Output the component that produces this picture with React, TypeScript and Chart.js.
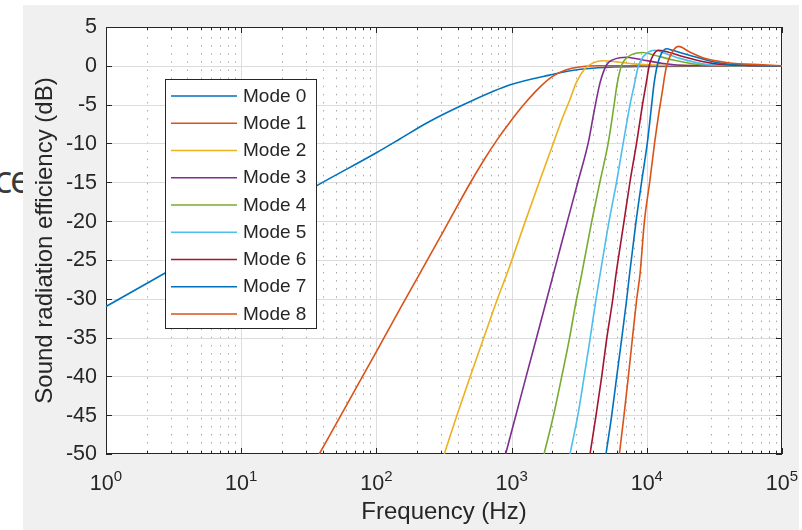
import { useEffect, useRef } from 'react';
import { Chart, registerables } from 'chart.js';

Chart.register(...registerables);

// ---- data -------------------------------------------------------------
const modeLabels = ['Mode 0', 'Mode 1', 'Mode 2', 'Mode 3', 'Mode 4', 'Mode 5', 'Mode 6', 'Mode 7', 'Mode 8'];
const modeColors = ['#0072BD', '#D95319', '#EDB120', '#7E2F8E', '#77AC30', '#4DBEEE', '#A2142F', '#0072BD', '#D95319'];

// frequency (Hz) / radiation efficiency (dB) for each mode
const freq0 = [1, 10, 35.7, 100, 150, 234, 468, 977, 1905, 3236, 10000, 100000];
const db0 = [-31, -21.1, -15.5, -11.2, -9.4, -7.4, -4.8, -2.45, -1.2, -0.45, -0.08, 0];

const freq1 = [37.8, 63.1, 100, 158.5, 251.2, 354.8, 497.7, 631, 776.2, 977.2, 1259, 1585, 1995, 2512, 3162, 4467, 100000];
const db1 = [-50, -43.05, -36.8, -30.5, -24.3, -19.6, -15.0, -12.0, -9.6, -7.2, -4.8, -2.9, -1.4, -0.55, -0.15, 0, 0];

const freq2 = [317.7, 392.6, 492, 618, 783, 946, 1259, 1607, 2042, 2344, 2692, 3020, 3467, 3981, 4786, 6026, 7943, 11220, 100000];
const db2 = [-50, -45.1, -40.1, -35.2, -30.1, -26.3, -20.1, -14.9, -9.9, -7.0, -4.4, -2.1, -0.4, 0.35, 0.65, 0.5, 0.25, 0.1, 0];

const freq3 = [903.6, 1076, 1282, 1531, 1824, 2173, 2588, 3090, 3690, 4074, 4508, 5047, 5649, 6310, 7079, 8414, 10471, 13183, 19953, 100000];
const db3 = [-50, -45, -40, -35, -30, -25, -20, -15, -9.9, -5.9, -2.2, 0.14, 0.8, 1.05, 1.1, 0.9, 0.6, 0.3, 0.05, 0];

const freq4 = [1738, 2037, 2344, 2673, 3020, 3236, 3908, 4508, 5188, 5689, 6026, 6516, 7311, 8414, 9333, 11220, 15704, 23442, 39811, 100000];
const db4 = [-50, -45.1, -40.1, -35.2, -30.1, -27.6, -20.1, -14.9, -9.9, -5.4, -2.4, 0.1, 1.2, 1.65, 1.72, 1.4, 0.75, 0.2, 0.05, 0];

const freq5 = [2704, 3083, 3436, 3802, 4207, 4519, 5248, 5984, 6699, 7516, 8091, 8650, 9419, 10568, 11482, 13183, 17579, 27542, 50119, 100000];
const db5 = [-50, -45.1, -40.1, -35.2, -30.1, -26.8, -20.1, -14.9, -9.9, -5.0, -2.4, -0.1, 1.2, 1.87, 2.0, 1.7, 0.96, 0.2, 0.03, 0];

const freq6 = [3802, 4207, 4634, 5047, 5598, 5916, 6776, 7516, 8414, 9290, 9863, 10447, 11169, 12190, 13183, 17579, 30903, 56234, 100000];
const db6 = [-50, -45.1, -40.1, -35.2, -30.1, -26.9, -20.1, -14.9, -9.9, -5.0, -2.4, 0.1, 1.4, 2.0, 1.95, 1.3, 0.3, 0.03, 0];

const freq7 = [4989, 5495, 5984, 6516, 7096, 7447, 8318, 9162, 10093, 10864, 11298, 11967, 12882, 14028, 15488, 19498, 34674, 63096, 100000];
const db7 = [-50, -45.1, -40.1, -35.2, -30.1, -26.9, -20.1, -14.9, -9.9, -5.0, -2.4, 0.1, 1.65, 2.2, 2.0, 1.5, 0.35, 0.05, 0];

const freq8 = [6266, 6776, 7295, 7816, 8414, 8913, 9594, 10520, 11429, 12303, 13032, 13646, 14125, 15276, 17100, 20893, 26303, 39811, 72444, 100000];
const db8 = [-50, -45.1, -40.1, -35.2, -30.1, -26.8, -20.1, -14.9, -9.9, -6.0, -3.3, -1.0, 0.2, 1.65, 2.5, 1.75, 1.0, 0.4, 0.12, 0];

const modeFreqs = [freq0, freq1, freq2, freq3, freq4, freq5, freq6, freq7, freq8];
const modeDb = [db0, db1, db2, db3, db4, db5, db6, db7, db8];

// axes
const xDecades = [1, 10, 100, 1000, 10000, 100000];
const xExponents = ['0', '1', '2', '3', '4', '5'];
const xMinorFactors = [2, 3, 4, 5, 6, 7, 8, 9];
const yTicks = [-50, -45, -40, -35, -30, -25, -20, -15, -10, -5, 0, 5];
const xTitle = 'Frequency (Hz)';
const yTitle = 'Sound radiation efficiency (dB)';

// ---- drawing helpers ----------------------------------------------------
const FONT = '"Liberation Sans", Arial, Helvetica, sans-serif';
const INK = '#262626';

const axesPlugin = {
  id: 'axesFrame',
  beforeDatasetsDraw(chart: any) {
    const { ctx, chartArea, scales } = chart;
    const { left, top, right, bottom } = chartArea;
    const xs = scales.x;
    const ys = scales.y;
    ctx.save();
    ctx.fillStyle = '#ffffff';
    ctx.fillRect(left, top, right - left, bottom - top);

    // minor dotted grid (vertical)
    ctx.lineWidth = 1;
    ctx.strokeStyle = '#a6a6a6';
    ctx.setLineDash([1.5, 6.6]);
    ctx.beginPath();
    for (let i = 0; i < xDecades.length - 1; i++) {
      for (const m of xMinorFactors) {
        const px = Math.round(xs.getPixelForValue(xDecades[i] * m)) + 0.5;
        ctx.moveTo(px, top + 2);
        ctx.lineTo(px, bottom);
      }
    }
    ctx.stroke();
    ctx.setLineDash([]);

    // major grid
    ctx.strokeStyle = '#dcdcdc';
    ctx.beginPath();
    for (const d of xDecades.slice(1, -1)) {
      const px = Math.round(xs.getPixelForValue(d)) + 0.5;
      ctx.moveTo(px, top);
      ctx.lineTo(px, bottom);
    }
    for (const v of yTicks.slice(1, -1)) {
      const py = Math.round(ys.getPixelForValue(v)) + 0.5;
      ctx.moveTo(left, py);
      ctx.lineTo(right, py);
    }
    ctx.stroke();

    // inward tick marks
    ctx.strokeStyle = INK;
    ctx.beginPath();
    for (let i = 0; i < xDecades.length; i++) {
      const px = Math.round(xs.getPixelForValue(xDecades[i])) + 0.5;
      ctx.moveTo(px, bottom);
      ctx.lineTo(px, bottom - 6);
      ctx.moveTo(px, top);
      ctx.lineTo(px, top + 6);
      if (i < xDecades.length - 1) {
        for (const m of xMinorFactors) {
          const pm = Math.round(xs.getPixelForValue(xDecades[i] * m)) + 0.5;
          ctx.moveTo(pm, bottom);
          ctx.lineTo(pm, bottom - 3);
          ctx.moveTo(pm, top);
          ctx.lineTo(pm, top + 3);
        }
      }
    }
    for (const v of yTicks) {
      const py = Math.round(ys.getPixelForValue(v)) + 0.5;
      ctx.moveTo(left, py);
      ctx.lineTo(left + 6, py);
      ctx.moveTo(right, py);
      ctx.lineTo(right - 6, py);
    }
    ctx.stroke();
    ctx.strokeRect(left + 0.5, top + 0.5, right - left - 1, bottom - top - 1);
    ctx.restore();
  },
  afterDraw(chart: any) {
    const { ctx, chartArea, scales } = chart;
    const { left, top, right, bottom } = chartArea;
    const xs = scales.x;
    const ys = scales.y;
    ctx.save();

    // legend box
    const lx = 165;
    const ly = 79;
    const lw = 151;
    const lh = 249;
    ctx.fillStyle = '#ffffff';
    ctx.fillRect(lx, ly, lw, lh);
    ctx.strokeStyle = INK;
    ctx.lineWidth = 1;
    ctx.strokeRect(lx + 0.5, ly + 0.5, lw, lh);
    ctx.font = `19px ${FONT}`;
    ctx.textAlign = 'left';
    ctx.textBaseline = 'middle';
    chart.data.datasets.forEach((ds: any, i: number) => {
      const ry = ly + 17 + i * 27.25;
      ctx.strokeStyle = ds.borderColor;
      ctx.lineWidth = 1.6;
      ctx.beginPath();
      ctx.moveTo(lx + 6, ry);
      ctx.lineTo(lx + 72, ry);
      ctx.stroke();
      ctx.fillStyle = INK;
      ctx.fillText(ds.label, lx + 78, ry + 0.5);
    });

    // y tick labels
    ctx.fillStyle = INK;
    ctx.font = `21.5px ${FONT}`;
    ctx.textAlign = 'right';
    ctx.textBaseline = 'middle';
    for (const v of yTicks) {
      ctx.fillText(String(v), left - 9, ys.getPixelForValue(v) + 0.5);
    }

    // x tick labels: 10 with raised exponent
    ctx.textAlign = 'left';
    ctx.textBaseline = 'alphabetic';
    xDecades.forEach((d, i) => {
      const px = xs.getPixelForValue(d);
      ctx.font = `21.5px ${FONT}`;
      const wb = ctx.measureText('10').width;
      ctx.font = `15px ${FONT}`;
      const we = ctx.measureText(xExponents[i]).width;
      const x0 = px - (wb + we) / 2;
      ctx.font = `21.5px ${FONT}`;
      ctx.fillText('10', x0, 490);
      ctx.font = `15px ${FONT}`;
      ctx.fillText(xExponents[i], x0 + wb, 480.5);
    });

    // axis titles
    ctx.font = `24px ${FONT}`;
    ctx.textAlign = 'center';
    ctx.textBaseline = 'alphabetic';
    ctx.fillText(xTitle, (left + right) / 2, 519);
    ctx.translate(52, (top + bottom) / 2);
    ctx.rotate(-Math.PI / 2);
    ctx.fillText(yTitle, 0, 0);
    ctx.restore();
  },
};

export default function App() {
  const canvasRef = useRef<HTMLCanvasElement | null>(null);

  useEffect(() => {
    if (!canvasRef.current) return;
    const datasets = modeLabels.map((label, i) => ({
      label,
      data: modeFreqs[i].map((f, k) => ({ x: f, y: modeDb[i][k] })),
      borderColor: modeColors[i],
      backgroundColor: modeColors[i],
      borderWidth: 1.6,
      pointRadius: 0,
      fill: false,
      cubicInterpolationMode: 'monotone' as const,
      order: modeLabels.length - 1 - i,
    }));
    const chart = new Chart(canvasRef.current, {
      type: 'line',
      data: { datasets },
      options: {
        responsive: false,
        animation: false,
        events: [],
        layout: { padding: { left: 106, top: 27, right: 20, bottom: 76 } },
        plugins: { legend: { display: false }, tooltip: { enabled: false } },
        scales: {
          x: { type: 'logarithmic', min: 1, max: 100000, display: false },
          y: { type: 'linear', min: -50, max: 5, display: false },
        },
      },
      plugins: [axesPlugin],
    });
    return () => chart.destroy();
  }, []);

  return (
    <div
      style={{
        position: 'fixed',
        left: 0,
        top: 0,
        width: 802,
        height: 530,
        background: '#ffffff',
        overflow: 'hidden',
      }}
    >
      <svg width={802} height={530} style={{ position: 'absolute', left: 0, top: 0 }}>
        <text x={-6} y={193} fontFamily='"Open Sans", sans-serif' fontSize={38} fill="#3a3a3a">c</text>
        <text x={10} y={193} fontFamily='"Open Sans", sans-serif' fontSize={38} fill="#3a3a3a">e</text>
      </svg>
      <div
        style={{
          position: 'absolute',
          left: 23,
          top: 5,
          width: 776,
          height: 525,
          background: '#f0f0f0',
        }}
      />
      <canvas
        ref={canvasRef}
        width={802}
        height={530}
        style={{ position: 'absolute', left: 0, top: 0 }}
      />
    </div>
  );
}
